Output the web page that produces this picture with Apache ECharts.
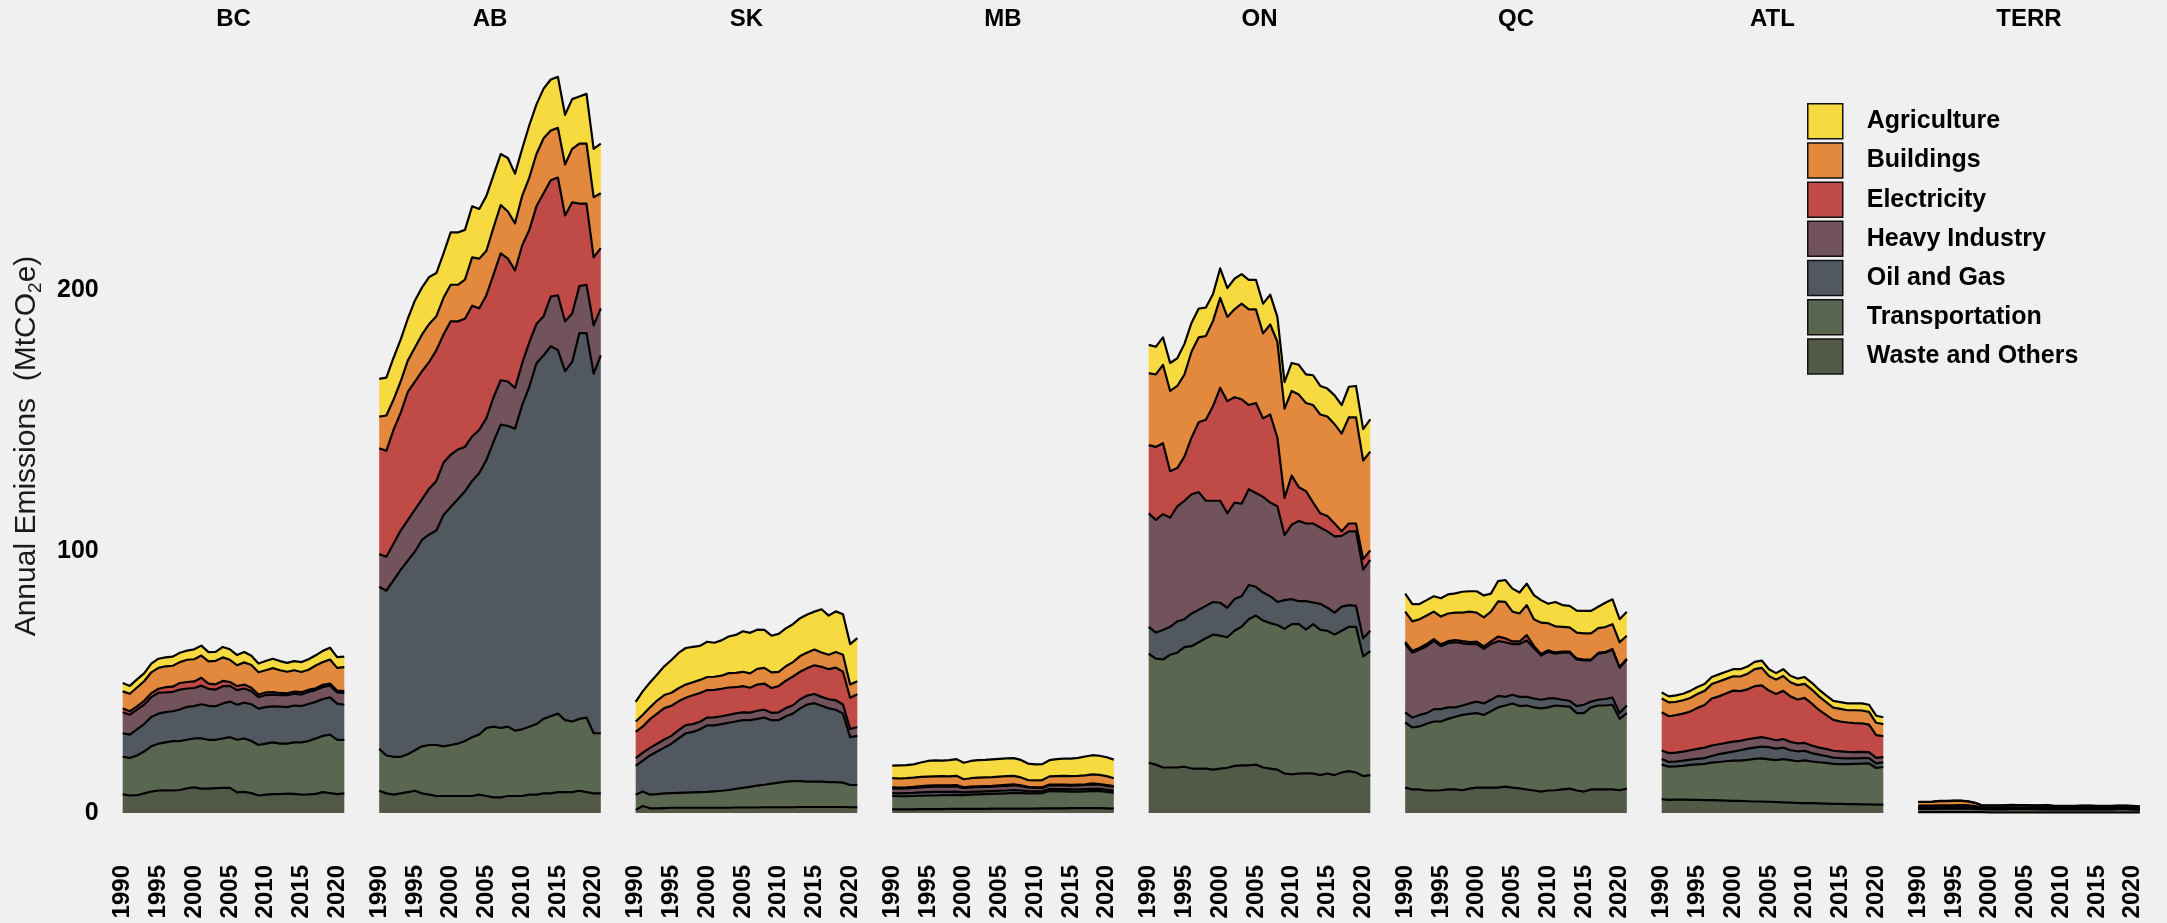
<!DOCTYPE html>
<html>
<head>
<meta charset="utf-8">
<script src="https://cdn.jsdelivr.net/npm/echarts@6/dist/echarts.min.js"></script>
<style>
  html, body { margin: 0; padding: 0; background: #f0f0f0; }
  #chart { width: 2167px; height: 923px; }
</style>
</head>
<body>
<div id="chart"></div>
<script>
// Annual emissions (MtCO2e) by economic sector, per region, 1990-2021
const years = [1990,1991,1992,1993,1994,1995,1996,1997,1998,1999,2000,2001,2002,2003,2004,2005,
               2006,2007,2008,2009,2010,2011,2012,2013,2014,2015,2016,2017,2018,2019,2020,2021];
const regions = ['BC', 'AB', 'SK', 'MB', 'ON', 'QC', 'ATL', 'TERR'];
// stacking order, bottom to top
const sectors = ['Waste and Others', 'Transportation', 'Oil and Gas', 'Heavy Industry', 'Electricity', 'Buildings', 'Agriculture'];
const legendOrder = ['Agriculture', 'Buildings', 'Electricity', 'Heavy Industry', 'Oil and Gas', 'Transportation', 'Waste and Others'];
const yTicks = [0, 100, 200];

// British Columbia
const bcWaste     = [7.1,6.7,6.8,7.5,8.2,8.6,8.7,8.6,8.8,9.4,9.8,9.3,9.3,9.5,9.6,9.6,7.9,8.1,7.6,6.7,7.0,7.2,7.2,7.4,7.3,7.0,7.1,7.3,8.0,7.6,7.2,7.5];
const bcTransport = [14.4,14.3,15.2,16.0,17.3,17.9,18.3,18.9,18.7,18.6,18.7,19.2,18.7,18.5,18.9,19.4,20.1,20.4,19.9,19.3,19.5,19.8,19.3,19.1,19.7,20.0,20.4,21.2,21.5,22.4,20.8,20.5];
const bcOilGas    = [9.0,9.0,10.0,10.5,11.2,11.5,11.6,11.4,12.1,12.6,12.4,13.1,13.0,12.8,13.4,13.6,13.4,13.7,14.1,13.9,14.0,13.8,14.2,14.0,14.1,13.9,14.2,14.0,14.1,14.2,13.8,13.4];
const bcHeavy     = [8.0,7.6,7.5,7.4,7.6,8.0,7.5,7.4,7.6,7.0,6.9,7.1,6.5,6.4,6.6,6.0,5.6,5.4,5.0,4.4,4.6,4.5,4.4,4.6,4.5,4.4,4.6,4.5,4.6,4.5,4.3,4.5];
const bcElec      = [1.5,1.3,1.3,1.5,1.5,1.5,2.0,2.0,2.5,2.5,2.5,3.0,2.0,2.0,2.0,1.5,1.5,1.5,1.3,1.0,1.0,0.9,0.8,0.7,0.8,0.9,0.8,0.7,0.8,0.8,0.7,0.7];
const bcBuildings = [6.5,6.7,7.2,7.5,8.0,8.0,8.0,8.0,8.0,8.5,8.5,8.5,8.5,9.0,9.0,8.5,8.0,8.5,8.7,8.5,8.5,9.2,8.7,8.2,8.2,7.7,7.7,8.7,8.7,9.2,8.7,9.2];
const bcAgri      = [3.2,3.0,3.1,3.0,3.3,3.5,3.4,3.5,3.6,3.5,3.8,3.8,3.5,3.4,4.0,4.0,3.9,4.0,3.5,3.4,3.5,3.6,3.5,3.4,3.5,3.8,4.0,3.9,4.3,4.5,4.1,4.0];

// Alberta
const abWaste     = [8.5,7.5,7.0,7.5,8.0,8.5,7.5,7.0,6.5,6.5,6.5,6.5,6.5,6.5,7.0,6.5,6.0,6.0,6.5,6.5,6.5,7.0,7.0,7.5,7.5,8.0,8.0,8.0,8.5,8.0,7.5,7.5];
const abTransport = [16.0,14.5,14.5,14.0,14.5,15.5,18.0,19.0,19.5,19.0,19.5,20.0,21.0,22.5,23.0,26.0,27.0,26.5,26.5,25.0,25.5,26.0,27.0,28.5,29.5,30.0,27.5,27.0,27.5,28.5,23.0,23.0];
const abOilGas    = [62.0,63.0,67.5,71.5,74.0,76.0,79.0,80.5,82.0,88.5,91.0,93.5,95.5,98.0,100.0,102.5,109.0,116.0,115.0,115.5,124.0,130.0,138.0,139.0,141.5,139.0,133.5,137.5,147.5,147.0,137.5,144.5];
const abHeavy     = [12.5,13.0,14.0,15.0,15.5,16.0,15.5,17.5,19.0,20.0,20.0,19.0,17.0,17.0,16.5,16.0,17.0,17.0,17.0,15.5,16.0,17.0,15.0,15.0,19.0,21.0,19.0,18.5,18.0,18.5,18.5,18.0];
const abElec      = [40.5,40.5,43.5,45.0,49.0,49.0,49.0,48.5,50.0,49.0,51.0,49.0,49.0,50.0,46.5,47.0,47.0,48.5,47.0,45.0,45.0,43.0,45.0,47.0,44.5,45.0,40.5,42.5,31.5,31.0,26.0,23.0];
const abBuildings = [12.1,13.5,11.5,12.0,12.0,13.0,14.0,14.5,13.0,14.0,14.0,14.0,15.0,18.5,19.0,17.0,18.0,18.5,18.0,18.0,19.0,20.0,20.0,21.0,19.0,19.0,19.5,20.5,23.0,23.0,23.0,21.0];
const abAgri      = [14.4,14.5,16.0,16.0,16.0,18.0,18.0,18.0,16.5,17.0,20.0,20.0,19.0,19.5,19.0,21.0,20.0,19.5,20.5,19.0,18.0,20.0,19.0,19.0,19.5,19.5,19.0,19.0,18.0,19.0,18.5,19.0];

// Saskatchewan
const skWaste     = [1.2,2.7,1.8,1.8,1.9,2.0,2.0,2.0,2.0,2.0,2.0,2.0,2.0,2.0,2.1,2.1,2.1,2.1,2.2,2.2,2.2,2.2,2.2,2.3,2.3,2.3,2.3,2.3,2.3,2.3,2.2,2.2];
const skTransport = [5.8,5.5,5.2,5.4,5.6,5.6,5.7,5.8,5.9,6.0,6.1,6.3,6.5,6.8,7.1,7.5,7.9,8.4,8.6,9.0,9.4,9.8,10.0,9.9,9.7,9.7,9.7,9.5,9.5,9.3,8.5,8.5];
const skOilGas    = [11.0,11.8,15.0,16.3,17.5,18.9,20.8,22.7,23.1,24.0,25.4,25.2,25.5,25.7,25.8,25.9,25.5,25.5,25.7,24.3,23.9,25.0,25.8,27.8,29.5,30.0,29.0,28.2,27.7,26.4,18.3,18.8];
const skHeavy     = [3.0,3.1,2.9,3.0,3.1,3.0,3.2,3.1,3.0,2.9,3.0,3.1,3.0,3.0,3.1,3.0,2.9,3.1,3.0,2.8,3.0,3.1,3.2,3.5,3.4,3.5,3.4,3.5,3.6,3.5,3.1,3.4];
const skElec      = [10.0,10.0,11.0,11.5,12.0,11.5,11.0,10.5,11.0,11.0,10.5,10.5,10.5,10.5,10.0,10.0,9.5,10.0,10.0,9.5,10.0,10.5,11.0,10.5,10.5,11.0,11.5,11.5,12.5,12.5,12.0,12.5];
const skBuildings = [4.0,4.5,4.5,5.0,5.0,5.0,5.0,5.0,5.0,5.0,5.0,5.0,5.0,5.5,5.5,5.5,5.5,6.0,6.0,6.0,5.5,5.5,5.5,6.0,6.0,6.0,5.5,5.5,6.0,6.5,5.0,5.0];
const skAgri      = [7.5,9.0,9.5,10.0,11.0,12.5,13.5,14.0,13.5,13.0,13.5,13.0,13.5,14.0,14.5,15.5,15.5,15.0,14.5,14.0,14.5,14.5,14.5,14.5,14.5,14.5,16.5,15.0,15.5,15.5,15.5,16.5];

// Manitoba
const mbWaste     = [1.4,1.4,1.4,1.4,1.5,1.5,1.5,1.5,1.6,1.6,1.6,1.6,1.6,1.6,1.7,1.7,1.7,1.7,1.7,1.7,1.7,1.8,1.8,1.8,1.8,1.9,1.9,1.9,1.9,1.9,1.8,1.7];
const mbTransport = [5.1,5.0,5.0,5.1,5.1,5.2,5.2,5.3,5.2,5.3,5.2,5.4,5.5,5.6,5.6,5.7,5.8,6.0,5.9,5.8,5.8,5.8,6.6,6.5,6.5,6.3,6.3,6.4,6.5,6.5,6.3,6.1];
const mbOilGas    = [1.1,1.1,1.2,1.2,1.3,1.3,1.4,1.3,1.3,1.3,1.1,1.1,1.1,1.1,1.1,1.1,1.1,1.1,1.0,0.9,0.8,0.8,0.8,0.8,0.8,0.8,0.8,0.8,0.8,0.8,0.8,0.8];
const mbHeavy     = [1.8,1.8,1.8,1.9,1.9,2.0,2.0,2.0,2.0,2.0,1.6,1.7,1.7,1.7,1.7,1.8,1.8,1.8,1.7,1.4,1.3,1.2,1.4,1.5,1.5,1.5,1.6,1.6,1.7,1.6,1.5,1.4];
const mbElec      = [0.4,0.4,0.4,0.4,0.5,0.5,0.5,0.5,0.5,0.5,0.3,0.3,0.3,0.3,0.3,0.3,0.4,0.4,0.3,0.2,0.2,0.2,0.3,0.3,0.3,0.3,0.3,0.3,0.4,0.3,0.3,0.3];
const mbBuildings = [3.5,3.5,3.5,3.5,3.5,3.4,3.4,3.5,3.4,3.5,3.1,3.2,3.3,3.3,3.3,3.3,3.3,3.2,3.0,2.6,2.7,2.8,3.1,3.2,3.3,3.3,3.3,3.4,3.5,3.5,3.4,3.0];
const mbAgri      = [4.8,5.0,5.0,5.1,5.5,6.0,6.1,5.9,6.2,6.4,6.3,6.6,6.7,6.7,6.8,6.8,6.8,6.8,6.7,6.3,6.1,6.1,6.2,6.5,6.6,6.7,6.9,7.2,7.3,7.3,7.2,7.1];

// Ontario
const onWaste     = [19.2,18.5,17.4,17.4,17.4,17.7,17.0,17.0,17.0,16.6,17.0,17.3,18.0,18.2,18.2,18.5,17.4,17.0,16.6,15.1,14.8,15.1,15.2,15.1,14.5,15.1,14.5,15.5,16.0,15.5,14.1,14.5];
const onTransport = [41.7,40.5,41.3,43.1,43.9,45.7,46.8,48.3,49.8,51.6,50.8,49.9,51.7,53.0,55.9,57.0,56.2,55.6,55.3,55.3,57.4,57.1,54.9,57.1,55.5,54.6,53.7,54.2,55.2,55.7,45.8,47.4];
const onOilGas    = [10.3,10.0,11.3,10.7,12.0,10.7,12.5,12.4,12.4,12.5,12.6,11.3,12.1,11.7,13.1,11.0,10.7,10.3,8.8,11.0,9.6,8.8,10.9,8.3,10.0,8.8,8.4,9.2,8.3,8.0,6.9,7.8];
const onHeavy     = [43.4,43.1,44.3,41.7,44.0,45.3,45.6,45.0,40.2,38.7,39.0,36.1,36.9,35.4,36.6,35.9,36.6,35.8,36.6,24.9,28.4,30.7,29.7,30.2,29.2,29.2,29.2,27.1,28.2,28.5,26.3,27.1];
const onElec      = [26.1,27.9,27.1,17.8,14.6,16.9,21.7,26.7,31.0,36.2,43.2,42.9,40.3,39.9,32.2,34.4,30.0,33.7,26.3,14.2,18.8,12.9,12.4,8.0,5.4,5.9,4.9,1.7,3.0,3.0,4.0,3.6];
const onBuildings = [27.5,27.7,30.0,30.7,31.4,31.4,32.9,32.5,32.0,32.6,34.4,32.2,33.6,36.6,36.6,35.8,32.5,34.4,36.6,34.1,32.4,35.4,33.7,37.3,37.8,38.0,38.0,37.4,40.6,40.6,37.7,37.8];
const onAgri      = [10.8,10.6,10.5,10.7,10.6,11.7,11.0,11.0,10.9,10.3,11.3,11.0,11.7,11.3,11.3,11.3,11.4,11.4,9.5,10.2,10.7,11.4,10.9,11.4,10.9,10.7,11.0,10.9,11.7,12.0,12.0,12.3];

// Quebec
const qcWaste     = [9.7,9.0,9.0,8.6,8.6,8.7,9.0,9.0,8.7,9.3,9.7,9.7,9.7,9.7,10.1,9.7,9.4,9.0,8.6,8.2,8.6,8.7,9.0,9.3,8.6,8.2,9.0,9.0,9.0,9.0,8.7,9.3];
const qcTransport = [24.9,23.7,24.1,25.5,26.4,26.3,27.0,27.8,28.8,28.6,28.5,27.8,29.2,30.7,31.0,32.2,31.5,32.1,31.8,31.8,31.8,32.4,31.9,31.4,29.6,30.0,31.4,32.1,32.1,32.4,27.3,28.9];
const qcOilGas    = [3.9,3.8,4.4,4.1,4.7,4.7,4.4,3.6,3.6,4.0,4.4,4.4,4.4,4.4,3.3,3.3,3.5,3.3,3.4,3.3,3.4,2.7,2.4,2.2,2.7,3.2,2.2,2.2,2.5,2.7,2.2,2.9];
const qcHeavy     = [26.1,24.8,24.9,25.6,26.0,24.1,24.5,24.9,23.8,22.7,22.0,20.9,21.3,20.9,20.9,19.4,20.2,21.6,19.3,16.9,17.8,17.1,18.0,18.4,17.8,17.0,15.8,17.6,17.7,18.3,17.3,17.6];
const qcElec      = [0.8,0.7,0.7,0.8,0.8,0.7,0.8,0.8,0.8,0.8,0.9,0.9,1.0,1.8,1.5,1.0,1.0,2.0,0.8,0.6,0.6,0.5,0.4,0.4,0.4,0.3,0.3,0.3,0.3,0.3,0.3,0.3];
const qcBuildings = [11.6,11.3,11.0,10.9,10.5,10.6,10.6,10.5,10.9,11.6,11.1,11.1,11.4,13.4,13.9,11.4,10.7,11.5,10.2,12.0,10.4,10.0,9.5,9.3,9.9,10.0,10.0,9.5,9.5,9.5,9.5,8.8];
const qcAgri      = [6.9,6.6,5.8,5.9,5.9,7.0,7.3,7.4,8.0,7.8,8.2,8.4,6.9,7.8,8.4,8.8,8.0,8.2,9.2,8.6,7.4,9.3,8.3,8.2,8.4,8.6,8.6,8.2,9.3,9.5,8.8,9.2];

// Atlantic provinces
const atlWaste     = [5.3,5.0,5.1,5.1,5.0,5.0,4.9,4.9,4.8,4.7,4.6,4.6,4.5,4.4,4.4,4.3,4.2,4.1,4.0,3.9,3.8,3.8,3.7,3.6,3.5,3.5,3.4,3.4,3.3,3.3,3.2,3.2];
const atlTransport = [13.2,12.7,12.7,12.9,13.4,13.6,13.9,14.4,14.7,15.1,15.4,15.4,15.8,16.3,16.5,16.2,16.0,16.5,16.2,15.9,16.3,15.9,15.7,15.6,15.3,15.2,15.3,15.4,15.6,15.7,14.0,14.4];
const atlOilGas    = [2.2,1.8,1.9,2.0,2.0,2.1,2.2,2.5,3.0,3.2,3.5,4.0,4.3,4.3,4.5,4.7,4.4,4.4,3.8,3.8,3.7,3.2,2.9,2.6,2.4,2.3,2.2,2.1,2.1,2.0,1.8,1.8];
const atlHeavy     = [3.2,3.4,3.4,3.5,3.6,3.8,4.0,4.0,3.8,3.8,3.8,3.6,3.6,3.6,3.6,3.3,3.2,3.3,3.2,3.0,3.0,2.9,2.7,2.7,2.6,2.6,2.5,2.4,2.4,2.3,2.1,2.0];
const atlElec      = [14.6,14.1,14.3,14.5,14.8,15.7,16.3,18.0,18.3,18.9,19.5,19.0,19.1,19.9,19.8,18.3,17.7,18.4,17.4,16.8,17.2,16.0,14.4,13.0,11.8,11.4,11.2,11.1,10.9,10.5,8.7,8.0];
const atlBuildings = [5.3,5.3,5.1,5.1,5.2,5.3,5.4,5.5,5.7,5.6,5.5,5.6,5.9,6.5,6.7,5.6,5.5,5.7,5.4,5.5,5.4,5.4,5.2,4.9,4.7,4.8,4.7,4.9,4.9,4.9,4.7,4.6];
const atlAgri      = [2.3,2.3,2.5,2.5,2.7,2.7,2.6,2.7,2.7,2.7,2.7,2.8,2.8,2.8,2.8,2.6,2.5,2.6,2.5,2.5,2.6,2.6,2.6,2.6,2.6,2.6,2.6,2.6,2.7,2.7,2.7,2.6];

// Territories
const terrWaste     = [0.3,0.3,0.3,0.3,0.3,0.3,0.3,0.3,0.3,0.3,0.2,0.2,0.2,0.2,0.2,0.2,0.2,0.2,0.2,0.2,0.2,0.2,0.2,0.2,0.2,0.2,0.2,0.2,0.2,0.2,0.2,0.2];
const terrTransport = [1.3,1.3,1.3,1.4,1.4,1.4,1.5,1.4,1.3,1.2,1.2,1.2,1.2,1.3,1.3,1.3,1.3,1.2,1.3,1.2,1.2,1.2,1.2,1.3,1.2,1.2,1.2,1.2,1.3,1.3,1.2,1.1];
const terrOilGas    = [0.4,0.4,0.4,0.4,0.4,0.4,0.4,0.4,0.3,0.2,0.2,0.2,0.2,0.2,0.2,0.2,0.2,0.2,0.2,0.1,0.1,0.1,0.1,0.1,0.1,0.1,0.1,0.1,0.1,0.1,0.1,0.1];
const terrHeavy     = [0.2,0.2,0.2,0.2,0.2,0.2,0.2,0.2,0.2,0.1,0.1,0.1,0.1,0.1,0.1,0.1,0.1,0.1,0.1,0.1,0.1,0.1,0.1,0.1,0.1,0.1,0.1,0.1,0.1,0.1,0.1,0.1];
const terrElec      = [0.6,0.6,0.6,0.6,0.6,0.6,0.6,0.6,0.5,0.3,0.3,0.3,0.4,0.4,0.3,0.3,0.3,0.3,0.3,0.3,0.3,0.3,0.3,0.3,0.3,0.3,0.3,0.3,0.3,0.3,0.3,0.3];
const terrBuildings = [1.4,1.4,1.5,1.6,1.6,1.7,1.6,1.5,1.2,0.7,0.8,0.8,0.7,0.8,0.8,0.8,0.7,0.8,0.8,0.7,0.7,0.7,0.7,0.7,0.8,0.7,0.7,0.7,0.7,0.7,0.7,0.6];
const terrAgri      = [0.1,0.1,0.1,0.1,0.1,0.1,0.1,0.1,0.1,0.1,0.1,0.1,0.1,0.1,0.1,0.1,0.1,0.1,0.1,0.1,0.1,0.1,0.1,0.1,0.1,0.1,0.1,0.1,0.1,0.1,0.1,0.1];

// sector values per region, in stacking order (bottom to top)
const regionSeries = {
  BC:   [bcWaste, bcTransport, bcOilGas, bcHeavy, bcElec, bcBuildings, bcAgri],
  AB:   [abWaste, abTransport, abOilGas, abHeavy, abElec, abBuildings, abAgri],
  SK:   [skWaste, skTransport, skOilGas, skHeavy, skElec, skBuildings, skAgri],
  MB:   [mbWaste, mbTransport, mbOilGas, mbHeavy, mbElec, mbBuildings, mbAgri],
  ON:   [onWaste, onTransport, onOilGas, onHeavy, onElec, onBuildings, onAgri],
  QC:   [qcWaste, qcTransport, qcOilGas, qcHeavy, qcElec, qcBuildings, qcAgri],
  ATL:  [atlWaste, atlTransport, atlOilGas, atlHeavy, atlElec, atlBuildings, atlAgri],
  TERR: [terrWaste, terrTransport, terrOilGas, terrHeavy, terrElec, terrBuildings, terrAgri]
};

const sectorColors = {
  'Agriculture':      '#f7da3f',
  'Buildings':        '#e2893d',
  'Electricity':      '#c04b46',
  'Heavy Industry':   '#72525b',
  'Oil and Gas':      '#51585f',
  'Transportation':   '#5a6750',
  'Waste and Others': '#525a47'
};

// layout
const FONT = '"Liberation Sans", Arial, Helvetica, sans-serif';
const panelLeft = 122.7, panelPitch = 256.5, panelWidth = 221.6;
const plotTop = 54.65, plotBottomY = 813, yMax = 290;

const grids = [], xAxes = [], yAxes = [], series = [], graphics = [];

regions.forEach((region, i) => {
  const left = panelLeft + i * panelPitch;
  grids.push({ left: left, top: plotTop, width: panelWidth, height: plotBottomY - plotTop, containLabel: false });

  xAxes.push({
    type: 'category', gridIndex: i, data: years, boundaryGap: false,
    axisLine: { show: false }, axisTick: { show: false }, splitLine: { show: false },
    axisLabel: {
      interval: (idx, val) => Number(val) % 5 === 0,
      rotate: 90, margin: 52, color: '#000',
      fontSize: 24, fontWeight: 'bold', fontFamily: FONT
    }
  });

  yAxes.push({
    type: 'value', gridIndex: i, min: 0, max: yMax, interval: 100,
    axisLine: { show: false }, axisTick: { show: false }, splitLine: { show: false },
    axisLabel: {
      show: i === 0, margin: 24, color: '#000',
      fontSize: 25, fontWeight: 'bold', fontFamily: FONT,
      formatter: v => (yTicks.indexOf(v) >= 0 ? String(v) : '')
    }
  });

  // filled layers
  sectors.forEach((sector, k) => {
    series.push({
      type: 'line', name: sector, xAxisIndex: i, yAxisIndex: i,
      stack: region + '-fill', data: regionSeries[region][k],
      symbol: 'none', silent: true, z: 2,
      lineStyle: { width: 0 },
      itemStyle: { color: sectorColors[sector] },
      areaStyle: { color: sectorColors[sector], opacity: 1 }
    });
  });
  // outlines on the upper edge of each layer
  sectors.forEach((sector, k) => {
    series.push({
      type: 'line', name: region + ' ' + sector + ' edge', xAxisIndex: i, yAxisIndex: i,
      stack: region + '-edge', data: regionSeries[region][k],
      symbol: 'none', silent: true, z: 3,
      lineStyle: { color: '#000', width: 2.2, join: 'round' }
    });
  });

  // panel heading
  graphics.push({
    type: 'text', x: left + panelWidth / 2, y: 19,
    style: { text: region, fill: '#000', fontSize: 24, fontWeight: 'bold', fontFamily: FONT,
             align: 'center', verticalAlign: 'middle' }
  });
});

// y-axis title
graphics.push({
  type: 'text', x: 27, y: 446, rotation: Math.PI / 2,
  style: {
    text: 'Annual Emissions  (MtCO{sub|2}e)',
    fill: '#1a1a1a', fontSize: 30, fontFamily: FONT,
    align: 'center', verticalAlign: 'middle', lineHeight: 36,
    rich: { sub: { fontSize: 19, fontFamily: FONT, fill: '#1a1a1a', verticalAlign: 'bottom', lineHeight: 19 } }
  }
});

const chart = echarts.init(document.getElementById('chart'), null, { renderer: 'canvas' });
chart.setOption({
  backgroundColor: '#f0f0f0',
  animation: false,
  grid: grids,
  xAxis: xAxes,
  yAxis: yAxes,
  series: series,
  graphic: graphics,
  legend: {
    data: legendOrder, orient: 'vertical', left: 1807, top: 103, padding: 0,
    itemWidth: 35, itemHeight: 35, itemGap: 2.7, icon: 'rect', selectedMode: false,
    itemStyle: { borderColor: '#111', borderWidth: 1.5 },
    textStyle: { fontSize: 25, fontWeight: 'bold', color: '#000', fontFamily: FONT, padding: [0, 0, 0, 19] }
  }
});
</script>
</body>
</html>
